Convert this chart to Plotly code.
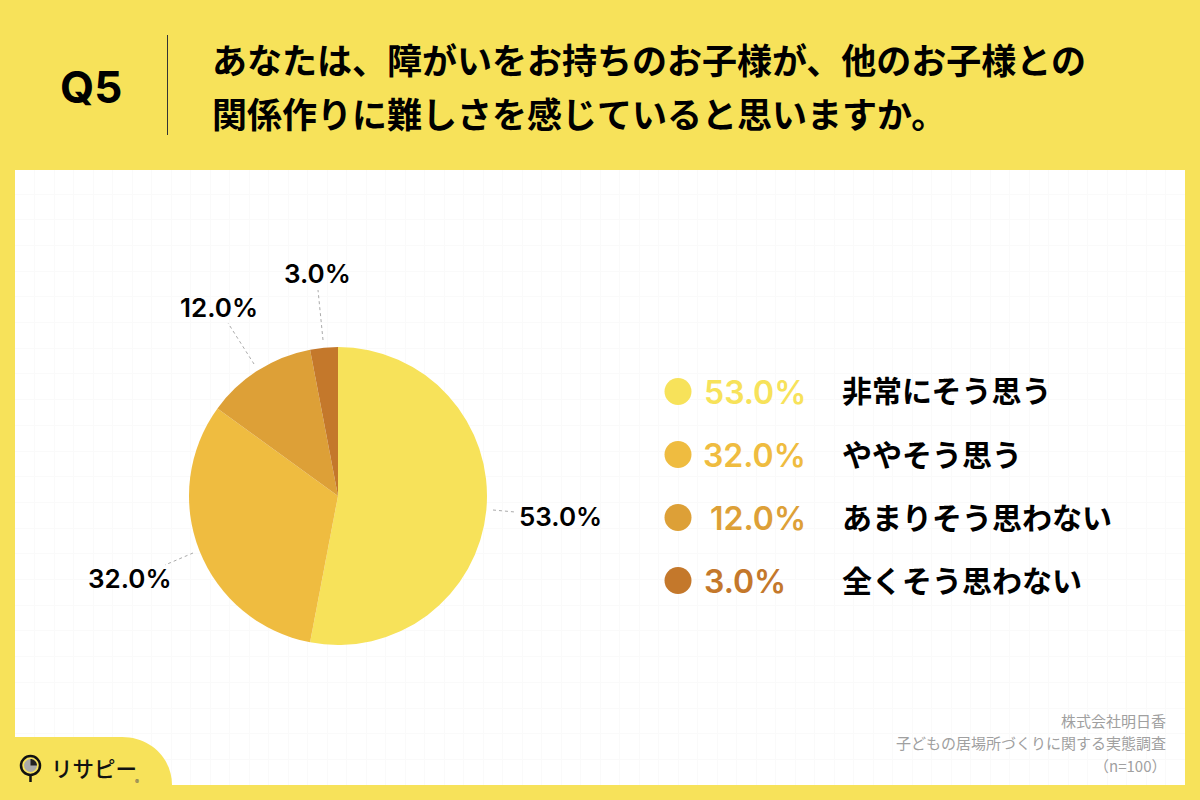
import plotly.graph_objects as go

W = 1200
H = 800
CJK = "Noto Sans CJK JP"
LATIN = "Inter"

categories = ["非常にそう思う", "ややそう思う", "あまりそう思わない", "全くそう思わない"]
values = [53.0, 32.0, 12.0, 3.0]
colors = ["#F7E25A", "#EFBC40", "#DDA037", "#C4782B"]

title_lines = ["あなたは、障がいをお持ちのお子様が、他のお子様との", "関係作りに難しさを感じていると思いますか。"]
footer_lines = ["株式会社明日香", "子どもの居場所づくりに関する実態調査", "（n=100）"]

# 出力先のピクセル座標で配置する
def px(x):
    return x / W

def py(y):
    return 1 - y / H

def add_text(fig, x, y, text, size, color="#000000", family=CJK, anchor="left", weight=None):
    fig.add_annotation(
        x=px(x), y=py(y), xref="paper", yref="paper",
        text=text, showarrow=False, xanchor=anchor, yanchor="middle",
        font=dict(family=family, size=size, color=color, weight=weight),
    )

# 円グラフ本体
pie = go.Pie(
    labels=categories,
    values=values,
    marker=dict(colors=colors, line=dict(width=0)),
    sort=False,
    direction="clockwise",
    rotation=0,
    textinfo="none",
    hoverinfo="label+percent",
    showlegend=False,
    domain=dict(x=[px(189), px(487)], y=[py(645), py(347)]),
)

# 凡例の丸
legend_x = 678
legend_y0 = 391.5
legend_step = 63
legend_ys = [legend_y0 + legend_step * i for i in range(len(categories))]
dots = go.Scatter(
    x=[legend_x] * len(categories),
    y=legend_ys,
    mode="markers",
    marker=dict(size=27, color=colors, line=dict(width=0)),
    hoverinfo="skip",
    showlegend=False,
)

fig = go.Figure([dots, pie])

fig.update_layout(
    width=W,
    height=H,
    autosize=False,
    margin=dict(l=0, r=0, t=0, b=0),
    paper_bgcolor="#F7E25A",
    plot_bgcolor="#FFFFFF",
    xaxis=dict(
        domain=[px(15), px(1185)], range=[15, 1185], tick0=15, dtick=19.5,
        showgrid=True, gridcolor="#FAFAFA", gridwidth=1,
        zeroline=False, showticklabels=False, ticks="", fixedrange=True,
    ),
    yaxis=dict(
        domain=[py(785), py(170)], range=[785, 170], tick0=194, dtick=25.7,
        showgrid=True, gridcolor="#FAFAFA", gridwidth=1,
        zeroline=False, showticklabels=False, ticks="", fixedrange=True,
    ),
)

# ヘッダー
add_text(fig, 58, 87, "Q5", 44, family=LATIN, weight=700)
fig.add_shape(type="line", xref="paper", yref="paper", x0=px(167.5), x1=px(167.5), y0=py(35), y1=py(135),
              line=dict(color="#333333", width=1))
add_text(fig, 210, 58, title_lines[0], 35, weight=700)
add_text(fig, 210, 112, title_lines[1], 35, weight=700)

# 円グラフのラベルと引き出し線
label_pos = [(560.5, 516), (130, 578), (219, 307), (317, 273)]
leader_lines = [(493, 510, 515, 512), (193, 553, 165, 565), (254, 364, 228, 323), (323, 340, 318, 290)]
for v, (lx, ly), (x0, y0, x1, y1) in zip(values, label_pos, leader_lines):
    add_text(fig, lx, ly, f"{v:.1f}%", 26, family=LATIN, anchor="center", weight=600)
    fig.add_shape(type="line", xref="paper", yref="paper", x0=px(x0), x1=px(x1), y0=py(y0), y1=py(y1),
                  line=dict(color="#AAAAAA", width=1, dash="dot"))

# 凡例
for cat, v, c, y in zip(categories, values, colors, legend_ys):
    if v >= 10:
        add_text(fig, 808, y + 1, f"{v:.1f}%", 32, color=c, family=LATIN, anchor="right", weight=600)
    else:
        add_text(fig, 702, y + 1, f"{v:.1f}%", 32, color=c, family=LATIN, weight=600)
    add_text(fig, 840, y - 2, cat, 30, weight=700)

# 出典
for i, line in enumerate(footer_lines):
    add_text(fig, 1168, 720 + 22.5 * i, line, 15, color="#A0A0A0", anchor="right", weight=400)

# ロゴのタブ
fig.add_shape(type="path", xref="paper", yref="paper", layer="above",
              path=f"M {px(0)} {py(737)} L {px(122)} {py(737)} "
                   f"C {px(150)} {py(737)} {px(172)} {py(758)} {px(172)} {py(785)} "
                   f"L {px(172)} {py(800)} L {px(0)} {py(800)} Z",
              fillcolor="#F7E25A", line=dict(width=0))
fig.add_shape(type="circle", xref="paper", yref="paper", x0=px(21), x1=px(40), y0=py(775), y1=py(756),
              line=dict(color="#111111", width=2.5), fillcolor="#F7E25A")
fig.add_shape(type="circle", xref="paper", yref="paper", x0=px(24), x1=px(37), y0=py(772), y1=py(759),
              line=dict(width=0), fillcolor="#AAAAAA")
fig.add_shape(type="path", xref="paper", yref="paper",
              path=f"M {px(30.5)} {py(765.5)} L {px(30.5)} {py(759)} C {px(34)} {py(759)} {px(37)} {py(762)} {px(37)} {py(765.5)} Z",
              line=dict(width=0), fillcolor="#222222")
fig.add_shape(type="line", xref="paper", yref="paper", x0=px(30.5), x1=px(30.5), y0=py(775), y1=py(782),
              line=dict(color="#111111", width=2.5))
add_text(fig, 48.5, 767, "リサピー", 21.5, color="#111111", weight=500)
add_text(fig, 137, 781, "®", 6, color="#555555", family=LATIN, anchor="center")

fig.write_html("out.html", config=dict(displayModeBar=False), post_script="document.body.style.margin='0';")
